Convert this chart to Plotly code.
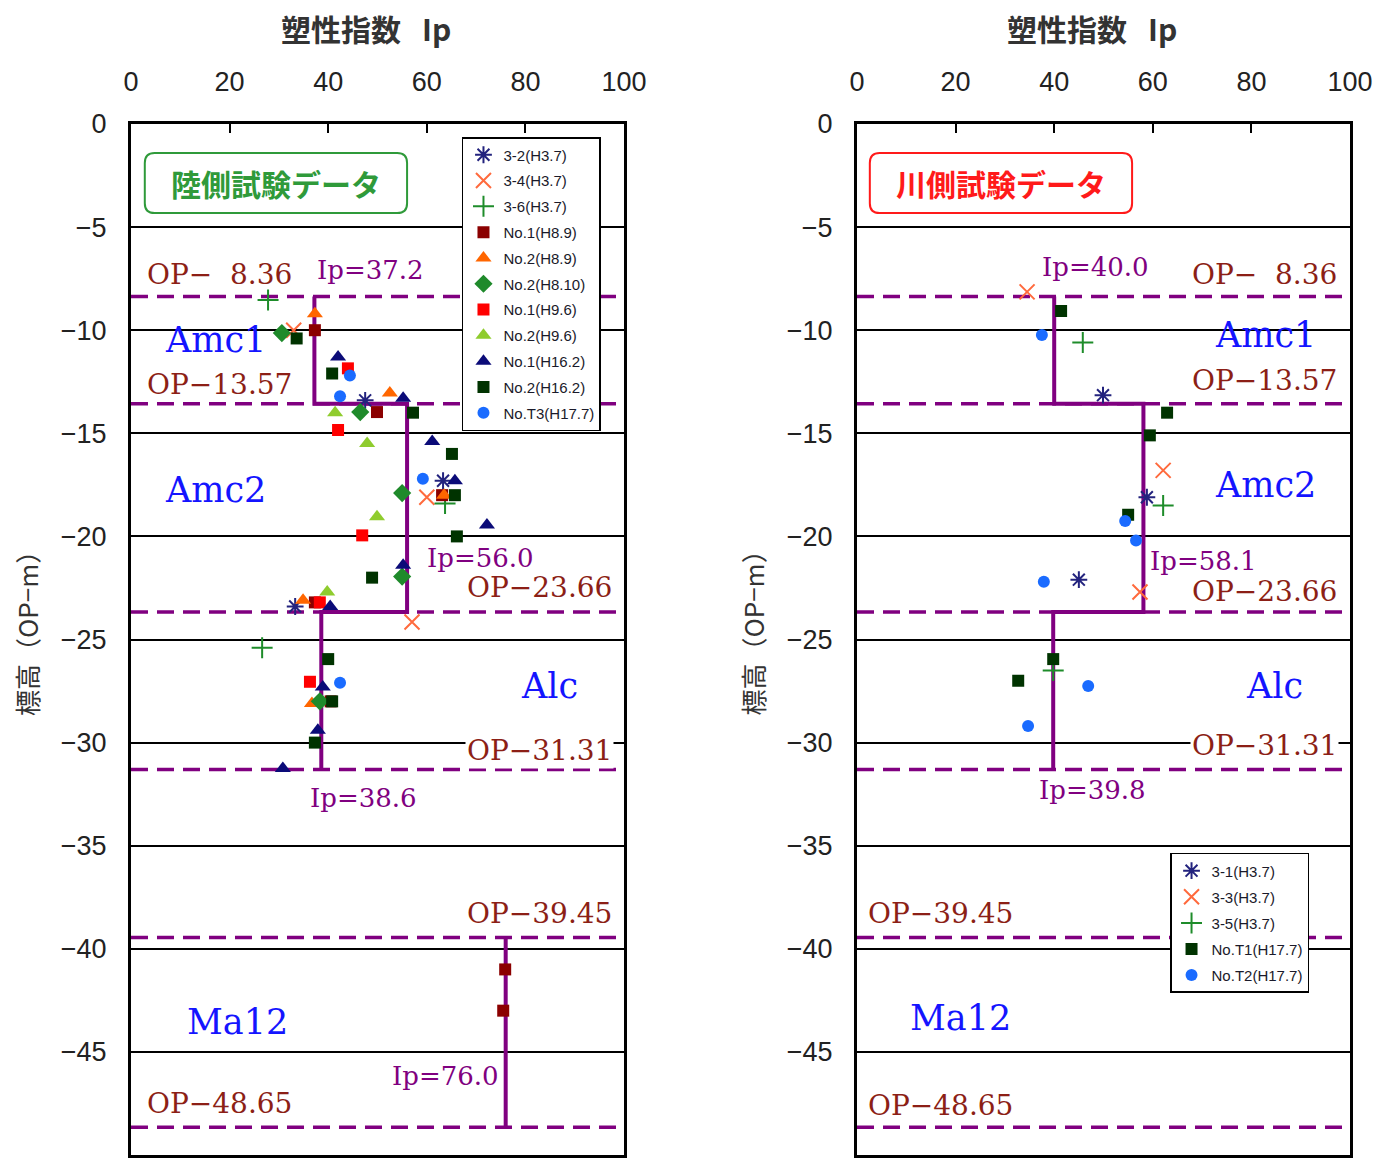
import plotly.graph_objects as go

# ---------------- data ----------------
x_ticks = [0, 20, 40, 60, 80, 100]
y_ticks = [0, -5, -10, -15, -20, -25, -30, -35, -40, -45, -50]
y_tick_text = ["0", "−5", "−10", "−15", "−20", "−25", "−30", "−35", "−40", "−45", "−50"]

# boundary elevations (OP-m)
boundaries = [-8.36, -13.57, -23.66, -31.31, -39.45, -48.65]
boundary_labels = ["OP−\u00a0\u00a08.36", "OP−13.57", "OP−23.66", "OP−31.31", "OP−39.45", "OP−48.65"]

# design Ip per layer (Amc1, Amc2, Alc) and Ma12
ip_left = [37.2, 56.0, 38.6]
ip_left_ma12 = 76.0
ip_right = [40.0, 58.1, 39.8]

# ---- land side (left) test data ----
L_32_x = [47.5, 63.3, 33.3]
L_32_y = [-13.4, -17.3, -23.4]
L_34_x = [33.0, 60.0, 57.0]
L_34_y = [-10.0, -18.1, -24.15]
L_36_x = [27.8, 63.7, 26.6]
L_36_y = [-8.54, -18.4, -25.4]
L_n1h89_x = [37.3, 49.9, 63.1, 37.3, 40.5, 75.9, 75.5]
L_n1h89_y = [-10.0, -13.97, -18.0, -23.2, -28.0, -41.0, -43.0]
L_n2h89_x = [37.3, 52.5, 63.5, 34.9, 36.7]
L_n2h89_y = [-9.2, -13.05, -18.0, -23.1, -28.1]
L_n2h810_x = [30.6, 46.5, 55.0, 55.0, 38.3]
L_n2h810_y = [-10.14, -13.97, -17.9, -21.95, -28.0]
L_n1h96_x = [44.0, 42.0, 46.9, 38.3, 36.3]
L_n1h96_y = [-11.85, -14.84, -19.95, -23.2, -27.05]
L_n2h96_x = [41.4, 47.9, 49.9, 39.8]
L_n2h96_y = [-14.0, -15.5, -19.05, -22.7]
L_n1h162_x = [42.0, 55.2, 61.1, 65.7, 72.2, 55.2, 40.4, 38.9, 37.9, 30.8]
L_n1h162_y = [-11.3, -13.3, -15.4, -17.3, -19.45, -21.4, -23.4, -27.3, -29.4, -31.25]
L_n2h162_x = [33.6, 40.8, 57.2, 65.1, 65.7, 66.1, 48.9, 40.0, 40.8, 37.3]
L_n2h162_y = [-10.4, -12.1, -14.0, -16.0, -18.0, -20.0, -22.0, -25.95, -28.0, -30.0]
L_t3_x = [44.4, 42.4, 59.2, 42.4]
L_t3_y = [-12.2, -13.2, -17.2, -27.1]

# ---- river side (right) test data ----
R_31_x = [49.9, 58.8, 45.0]
R_31_y = [-13.15, -18.1, -22.1]
R_33_x = [34.5, 62.1, 57.4]
R_33_y = [-8.14, -16.8, -22.7]
R_35_x = [45.8, 62.1, 39.8]
R_35_y = [-10.6, -18.5, -26.5]
R_t1_x = [41.4, 62.9, 59.4, 55.0, 39.8, 32.7]
R_t1_y = [-9.07, -14.0, -15.1, -18.95, -25.95, -27.0]
R_t2_x = [37.5, 54.4, 56.6, 37.9, 46.9, 34.7]
R_t2_y = [-10.23, -19.25, -20.2, -22.2, -27.25, -29.2]

left_series = [
    ("3-2(H3.7)", L_32_x, L_32_y, "asterisk-open", "#23237e", 14),
    ("3-4(H3.7)", L_34_x, L_34_y, "x-thin-open", "#ff6a3d", 15),
    ("3-6(H3.7)", L_36_x, L_36_y, "cross-thin-open", "#1e8c2a", 15),
    ("No.1(H8.9)", L_n1h89_x, L_n1h89_y, "square", "#8b0000", 12),
    ("No.2(H8.9)", L_n2h89_x, L_n2h89_y, "triangle-up", "#ff6600", 14),
    ("No.2(H8.10)", L_n2h810_x, L_n2h810_y, "diamond", "#1f8a2b", 14),
    ("No.1(H9.6)", L_n1h96_x, L_n1h96_y, "square", "#ff0000", 12),
    ("No.2(H9.6)", L_n2h96_x, L_n2h96_y, "triangle-up", "#8fcc2e", 14),
    ("No.1(H16.2)", L_n1h162_x, L_n1h162_y, "triangle-up", "#0b0b78", 14),
    ("No.2(H16.2)", L_n2h162_x, L_n2h162_y, "square", "#003300", 12),
    ("No.T3(H17.7)", L_t3_x, L_t3_y, "circle", "#1a6bff", 12),
]
right_series = [
    ("3-1(H3.7)", R_31_x, R_31_y, "asterisk-open", "#23237e", 14),
    ("3-3(H3.7)", R_33_x, R_33_y, "x-thin-open", "#ff6a3d", 15),
    ("3-5(H3.7)", R_35_x, R_35_y, "cross-thin-open", "#1e8c2a", 15),
    ("No.T1(H17.7)", R_t1_x, R_t1_y, "square", "#003300", 12),
    ("No.T2(H17.7)", R_t2_x, R_t2_y, "circle", "#1a6bff", 12),
]

PURPLE = "#800080"
OPRED = "#8c1f16"
BLUE = "#1414ff"
SERIF = "DejaVu Serif"
JP = "Noto Sans CJK JP"
SANS = "Liberation Sans"

fig = go.Figure()

# ---- boundary dashed lines and Ip step lines ----
for xa, ya in (("x", "y"), ("x2", "y2")):
    for b in boundaries:
        fig.add_trace(go.Scatter(x=[0, 100], y=[b, b], mode="lines", xaxis=xa, yaxis=ya,
                                 line=dict(color=PURPLE, width=3.5, dash="17px,9px"),
                                 showlegend=False, hoverinfo="skip"))


def step_xy(ips):
    xs = [ips[0], ips[0], ips[1], ips[1], ips[2], ips[2]]
    ys = [boundaries[0], boundaries[1], boundaries[1], boundaries[2], boundaries[2], boundaries[3]]
    return xs, ys


sx, sy = step_xy(ip_left)
fig.add_trace(go.Scatter(x=sx, y=sy, mode="lines", xaxis="x", yaxis="y",
                         line=dict(color=PURPLE, width=4), showlegend=False, hoverinfo="skip"))
fig.add_trace(go.Scatter(x=[ip_left_ma12, ip_left_ma12], y=[boundaries[4], boundaries[5]], mode="lines",
                         xaxis="x", yaxis="y", line=dict(color=PURPLE, width=4),
                         showlegend=False, hoverinfo="skip"))
sx, sy = step_xy(ip_right)
fig.add_trace(go.Scatter(x=sx, y=sy, mode="lines", xaxis="x2", yaxis="y2",
                         line=dict(color=PURPLE, width=4), showlegend=False, hoverinfo="skip"))


def add_series(series, xa, ya, legend):
    for i, (name, xs, ys, sym, col, size) in enumerate(series):
        if sym.endswith("-open"):
            marker = dict(symbol=sym, size=size, color=col, line=dict(color=col, width=2))
        else:
            marker = dict(symbol=sym, size=size, color=col, line=dict(width=0))
        fig.add_trace(go.Scatter(x=xs, y=ys, mode="markers", name=name, marker=marker,
                                 xaxis=xa, yaxis=ya, legend=legend,
                                 legendgroup=legend + str(i)))


add_series(left_series, "x", "y", "legend")
add_series(right_series, "x2", "y2", "legend2")

# ---- annotations ----
ann = []


def label(text, x, y, ref, color, size, family=SERIF, bg=None, xanchor="left"):
    d = dict(text=text, x=x, y=y, xref=ref[0], yref=ref[1], xanchor=xanchor, yanchor="middle",
             showarrow=False, font=dict(family=family, size=size, color=color), borderpad=1)
    if bg:
        d["bgcolor"] = bg
    ann.append(d)


L = ("x", "y")
R = ("x2", "y2")
# left panel
label(boundary_labels[0], 2.8, -7.32, L, OPRED, 28)
label("Ip=37.2", 37.3, -7.08, L, PURPLE, 26)
label(boundary_labels[1], 2.8, -12.61, L, OPRED, 28)
label("Ip=56.0", 59.6, -21.05, L, PURPLE, 26)
label(boundary_labels[2], 67.7, -22.5, L, OPRED, 28, bg="white")
label(boundary_labels[3], 67.7, -30.36, L, OPRED, 28, bg="white")
label("Ip=38.6", 35.9, -32.69, L, PURPLE, 26)
label(boundary_labels[4], 67.7, -38.31, L, OPRED, 28)
label("Ip=76.0", 52.5, -46.17, L, PURPLE, 26)
label(boundary_labels[5], 2.8, -47.48, L, OPRED, 28)
label("Amc1", 6.5, -10.48, L, BLUE, 35)
label("Amc2", 6.5, -17.75, L, BLUE, 35)
label("Alc", 78.7, -27.26, L, BLUE, 35)
label("Ma12", 11.0, -43.55, L, BLUE, 35)
label("<b>陸側試験データ</b>", 29.4, -2.86, L, "#2f9a3a", 30, family=JP, xanchor="center")
# right panel
label("Ip=40.0", 37.1, -6.94, R, PURPLE, 26)
label(boundary_labels[0], 67.5, -7.32, R, OPRED, 28)
label("Amc1", 72.2, -10.23, R, BLUE, 35)
label(boundary_labels[1], 67.5, -12.46, R, OPRED, 28)
label("Amc2", 72.2, -17.51, R, BLUE, 35)
label("Ip=58.1", 59.0, -21.19, R, PURPLE, 26)
label(boundary_labels[2], 67.5, -22.65, R, OPRED, 28, bg="white")
label("Alc", 78.5, -27.26, R, BLUE, 35)
label(boundary_labels[3], 67.5, -30.16, R, OPRED, 28, bg="white")
label("Ip=39.8", 36.5, -32.3, R, PURPLE, 26)
label(boundary_labels[4], 1.8, -38.31, R, OPRED, 28)
label("Ma12", 10.3, -43.36, R, BLUE, 35)
label(boundary_labels[5], 1.8, -47.62, R, OPRED, 28)
label("<b>川側試験データ</b>", 29.2, -2.86, R, "#ff1a1a", 30, family=JP, xanchor="center")

# axis titles
for xp in (0.2648, 0.789):
    ann.append(dict(text="<b>塑性指数\u2002\u2009Ip</b>", x=xp, y=0.976, xref="paper", yref="paper",
                    xanchor="center", yanchor="middle", showarrow=False,
                    font=dict(family=JP, size=30, color="#333333")))
for xp in (0.019, 0.5440):
    ann.append(dict(text="標高（OP−m）", x=xp, y=0.463, xref="paper", yref="paper",
                    xanchor="center", yanchor="middle", showarrow=False, textangle=-90,
                    font=dict(family=JP, size=26, color="#333333")))


def rounded_box(x0, x1, y0, y1, rx, ry):
    return (f"M {x0+rx},{y1} L {x1-rx},{y1} Q {x1},{y1} {x1},{y1-ry} "
            f"L {x1},{y0+ry} Q {x1},{y0} {x1-rx},{y0} L {x0+rx},{y0} "
            f"Q {x0},{y0} {x0},{y0+ry} L {x0},{y1-ry} Q {x0},{y1} {x0+rx},{y1} Z")


shapes = [
    dict(type="path", xref="x", yref="y", path=rounded_box(2.8, 56.0, -4.32, -1.41, 2.0, 0.48),
         line=dict(color="#2f9a3a", width=2), fillcolor="white", layer="above"),
    dict(type="path", xref="x2", yref="y2", path=rounded_box(2.6, 55.8, -4.32, -1.41, 2.0, 0.48),
         line=dict(color="#ff1a1a", width=2), fillcolor="white", layer="above"),
]

xax = dict(range=[0, 100], side="top", tickvals=x_ticks, ticks="inside", ticklen=9, tickwidth=2,
           tickcolor="black", showline=True, linewidth=3, linecolor="black", mirror=True,
           showgrid=False, zeroline=False, ticklabelstandoff=19, automargin=False,
           tickfont=dict(family=SANS, size=27, color="#222222"))
yax = dict(range=[-50, 0], tickvals=y_ticks, ticktext=y_tick_text, ticks="", showline=True,
           linewidth=3, linecolor="black", mirror=True, showgrid=True, gridcolor="black",
           gridwidth=1.5, zeroline=False, ticklabelstandoff=16, automargin=False,
           tickfont=dict(family=SANS, size=27, color="#222222"))

leg_common = dict(xanchor="left", yanchor="top", bgcolor="white", bordercolor="black", borderwidth=1.5,
                  font=dict(family=SANS, size=15, color="#1a1a2a"), itemwidth=30)

fig.update_layout(
    width=1384, height=1167,
    margin=dict(l=0, r=0, t=0, b=0, autoexpand=False),
    paper_bgcolor="white", plot_bgcolor="white",
    xaxis=dict(domain=[0.09465, 0.45087], anchor="y", **xax),
    yaxis=dict(domain=[0.010283, 0.89374], anchor="x", **yax),
    xaxis2=dict(domain=[0.61922, 0.97543], anchor="y2", **xax),
    yaxis2=dict(domain=[0.010283, 0.89374], anchor="x2", **yax),
    legend=dict(x=0.3338, y=0.8826, tracegroupgap=3.3, **leg_common),
    legend2=dict(x=0.8454, y=0.2691, tracegroupgap=3.6, **leg_common),
    annotations=ann,
    shapes=shapes,
)

fig.write_html("out.html", config={"displayModeBar": False},
               post_script="document.body.style.margin='0px';")
